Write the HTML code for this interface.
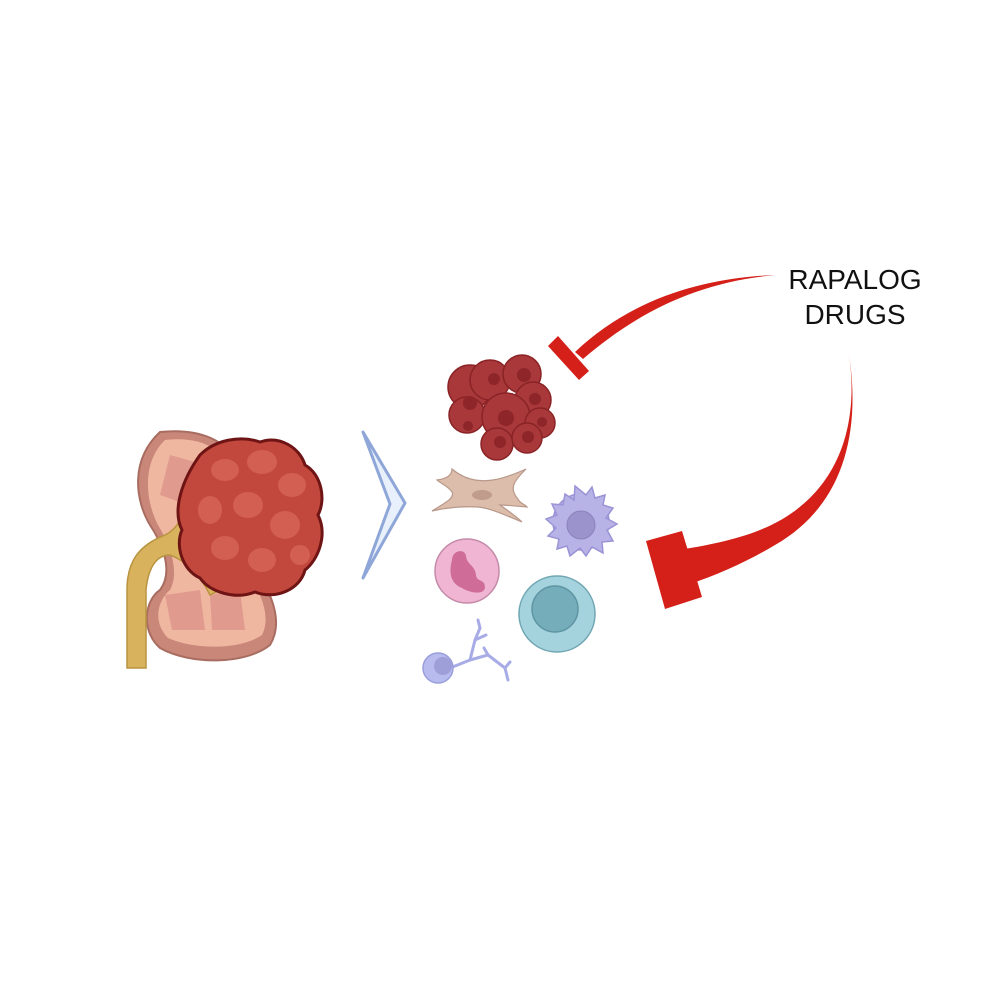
<!DOCTYPE html>
<html><head><meta charset="utf-8"><style>
html,body{margin:0;padding:0;background:#fff;}
svg{display:block}
</style></head><body>
<svg width="1000" height="1000" viewBox="0 0 1000 1000" xmlns="http://www.w3.org/2000/svg">
<rect width="1000" height="1000" fill="#fff"/>
<!-- Kidney -->
<path d="M160,432 C200,428 230,440 240,470 L250,560 C270,590 285,620 270,645 C245,665 190,665 160,648 C140,630 145,600 160,590 C175,570 160,540 150,525 C135,500 130,460 160,432 Z" fill="#c9877a" stroke="#a86d60" stroke-width="2"/>
<path d="M165,440 C200,436 225,448 232,475 L240,560 C260,590 272,615 262,635 C240,650 195,650 168,638 C152,622 158,600 170,590 C180,572 170,545 158,525 C145,500 142,462 165,440 Z" fill="#f0b7a0"/>
<path d="M170,455 L195,462 L188,505 L160,495 Z" fill="#d88e86" opacity=".7"/>
<path d="M165,595 L200,590 L205,630 L172,630 Z" fill="#d88e86" opacity=".7"/>
<path d="M210,595 L240,590 L245,630 L212,630 Z" fill="#d88e86" opacity=".7"/>
<!-- ureter / pelvis -->
<path d="M127,668 L127,590 C127,560 140,545 165,535 C180,528 185,510 190,495 L205,500 C200,520 200,545 205,560 L220,590 L210,595 C200,575 185,560 170,555 C155,555 148,570 146,590 L146,668 Z" fill="#d9b25e" stroke="#b99440" stroke-width="1.5"/>
<!-- tumor -->
<path d="M200,455 C215,440 240,435 260,442 C280,435 300,448 305,465 C322,475 326,500 318,515 C328,535 318,560 305,570 C300,590 275,600 255,592 C235,600 210,592 200,578 C182,570 175,545 182,530 C172,510 182,480 200,455 Z" fill="#c2483d" stroke="#6e1414" stroke-width="3"/>
<g fill="#d66556" opacity=".8">
<ellipse cx="225" cy="470" rx="14" ry="11"/><ellipse cx="262" cy="462" rx="15" ry="12"/><ellipse cx="292" cy="485" rx="14" ry="12"/>
<ellipse cx="210" cy="510" rx="12" ry="14"/><ellipse cx="248" cy="505" rx="15" ry="13"/><ellipse cx="285" cy="525" rx="15" ry="14"/>
<ellipse cx="225" cy="548" rx="14" ry="12"/><ellipse cx="262" cy="560" rx="14" ry="12"/><ellipse cx="300" cy="555" rx="10" ry="10"/>
</g>
<!-- chevron -->
<path d="M363,432 L405,503 L363,578 L390,504 Z" fill="#e8f0fb" stroke="#8fa6d8" stroke-width="3" stroke-linejoin="round"/>
<!-- tumor cell cluster -->
<g fill="#a8383a" stroke="#8a2326" stroke-width="1.5">
<circle cx="470" cy="387" r="22"/><circle cx="490" cy="380" r="20"/><circle cx="522" cy="374" r="19"/>
<circle cx="533" cy="400" r="18"/><circle cx="467" cy="415" r="18"/><circle cx="506" cy="417" r="24"/>
<circle cx="540" cy="423" r="15"/><circle cx="497" cy="444" r="16"/><circle cx="527" cy="438" r="15"/>
</g>
<g fill="#8e2529"><circle cx="470" cy="403" r="7"/><circle cx="494" cy="379" r="6"/><circle cx="524" cy="375" r="7"/><circle cx="506" cy="418" r="8"/><circle cx="535" cy="399" r="6"/><circle cx="542" cy="422" r="5"/><circle cx="500" cy="442" r="6"/><circle cx="528" cy="437" r="6"/><circle cx="468" cy="426" r="5"/></g>
<!-- fibroblast -->
<path d="M452,469 C465,480 480,482 493,480 C505,478 515,474 526,469 C515,480 508,488 518,499 C520,504 525,504 527,507 C515,506 505,505 500,505 C510,512 518,518 522,522 C505,515 490,508 478,507 C460,506 445,508 432,511 C445,503 455,498 452,492 C448,486 440,483 437,480 C445,479 452,476 452,469 Z" fill="#dcbcaa" stroke="#b8988a" stroke-width="1.2"/>
<ellipse cx="482" cy="495" rx="10" ry="5" fill="#c09c8c"/>
<!-- dendritic purple cell -->
<g fill="#b8b3e6" stroke="#9a93d6" stroke-width="1.5">
<circle cx="581" cy="522" r="28"/>
<path d="M575,486 L586,495 L592,487 L595,498 L605,495 L603,505 L613,508 L606,518 L617,524 L607,530 L613,541 L602,542 L603,553 L592,547 L586,556 L580,548 L570,556 L567,546 L557,549 L559,539 L548,536 L556,528 L546,519 L557,515 L552,504 L563,505 L565,494 L574,500 Z"/>
</g>
<circle cx="581" cy="525" r="14" fill="#9a93cc" stroke="#8a83bc"/>
<!-- neutrophil -->
<circle cx="467" cy="571" r="32" fill="#efb5d3" stroke="#c48aa8" stroke-width="1.5"/>
<path d="M452,560 C452,550 465,548 466,556 C467,565 475,565 476,575 C477,583 485,578 485,588 C483,596 468,592 462,588 C452,584 448,575 452,560 Z" fill="#cf6d98"/>
<!-- teal cell -->
<circle cx="557" cy="614" r="38" fill="#a5d3dd" stroke="#6fa6b2" stroke-width="1.5"/>
<circle cx="555" cy="609" r="23" fill="#76adbb" stroke="#5e96a4" stroke-width="1.5"/>
<!-- neuron-like -->
<g stroke="#a8ace6" stroke-width="3" fill="none" stroke-linecap="round">
<path d="M450,668 L470,660 L475,640 L480,628"/><path d="M475,640 L486,635"/><path d="M470,660 L488,655 L484,648"/><path d="M488,655 L505,668 L510,662"/><path d="M505,668 L508,680"/><path d="M480,628 L478,620"/>
</g>
<circle cx="438" cy="668" r="15" fill="#b7bbee" stroke="#9a9edb" stroke-width="1.5"/>
<circle cx="443" cy="666" r="9" fill="#9e9ed8"/>
<!-- top inhibitor -->
<path d="M775,275 C700,278 630,300 575,352 L583,359 C640,310 700,282 775,275 Z" fill="#d42018"/>
<path d="M548,346 L558,336 L589,371 L579,380 Z" fill="#d42018"/>
<!-- big inhibitor -->
<path d="M848,348 C862,430 835,500 760,530 C735,540 705,546 678,550 L690,584 C720,574 750,560 775,545 C845,505 862,430 848,348 Z" fill="#d42018"/>
<path d="M646,541 L682,531 L702,597 L665,609 Z" fill="#d42018"/>
<!-- text -->
<text x="855" y="289" text-anchor="middle" font-family="Liberation Sans, sans-serif" font-size="28" fill="#111">RAPALOG</text>
<text x="855" y="324" text-anchor="middle" font-family="Liberation Sans, sans-serif" font-size="28" fill="#111">DRUGS</text>
</svg>
</body></html>
